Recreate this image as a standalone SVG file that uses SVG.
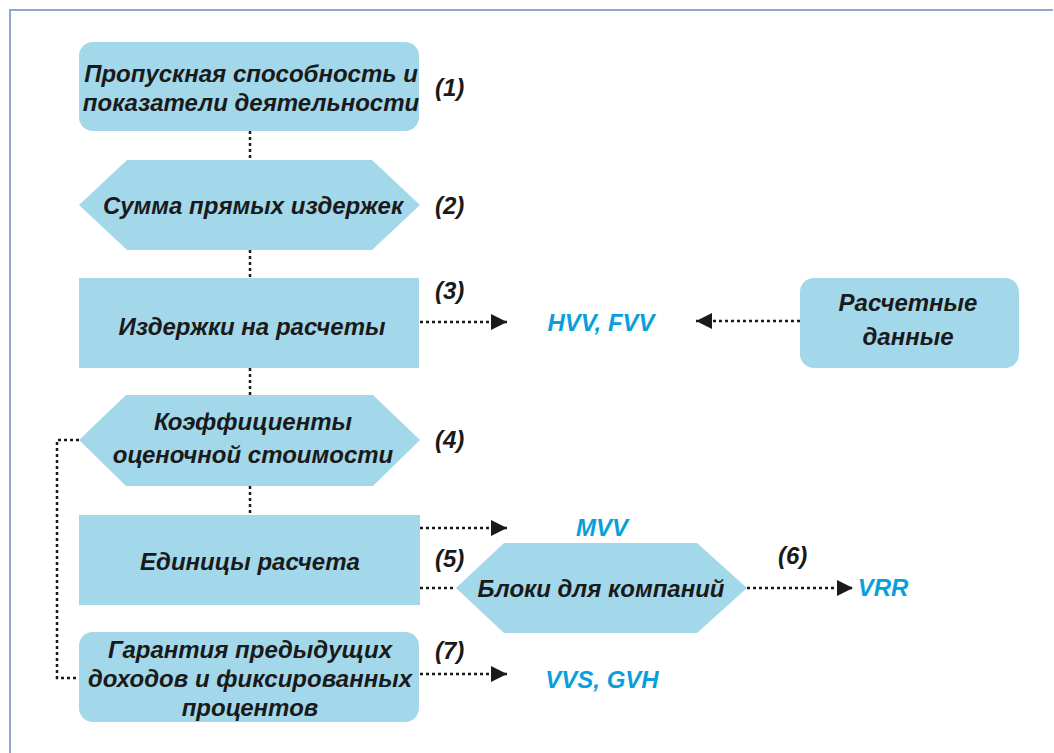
<svg xmlns="http://www.w3.org/2000/svg" width="1054" height="753" viewBox="0 0 1054 753">
<style>
.box{fill:#a2d8ea}
.t,.n,.b{font-family:"Liberation Sans",Arial,sans-serif;font-weight:bold;font-style:italic;font-size:24px}
.t{fill:#1a1a1a;text-anchor:middle}
.n{fill:#1a1a1a}
.b{fill:#0a9fda;text-anchor:middle}
.c{fill:none;stroke:#1a1a1a;stroke-width:2.5;stroke-dasharray:3 3}
</style>
<defs>
<marker id="ah" markerWidth="16" markerHeight="16" refX="16" refY="8" orient="auto" markerUnits="userSpaceOnUse">
<path d="M0,0 L16,8 L0,16 Z" fill="#1a1a1a"/>
</marker>
</defs>
<rect width="1054" height="753" fill="#fff"/>
<path d="M10,753 V10 H1053" fill="none" stroke="#91a6c9" stroke-width="2"/>

<g id="connectors">
<path class="c" d="M250,131 V160"/>
<path class="c" d="M250,250 V278"/>
<path class="c" d="M250,368 V395"/>
<path class="c" d="M250,486 V515"/>
<path class="c" d="M420,322 H507" marker-end="url(#ah)"/>
<path class="c" d="M800,321 H696" marker-end="url(#ah)"/>
<path class="c" d="M420,528 H507" marker-end="url(#ah)"/>
<path class="c" d="M420,588 H456"/>
<path class="c" d="M747,588 H853" marker-end="url(#ah)"/>
<path class="c" d="M420,674 H507" marker-end="url(#ah)"/>
<path class="c" d="M79,440 H57 V678 H79"/>
</g>

<g id="n1">
<rect class="box" x="79" y="42" width="340" height="89" rx="14"/>
<text class="t" x="251" y="82">Пропускная способность и</text>
<text class="t" x="251" y="111">показатели деятельности</text>
<text class="n" x="435" y="96">(1)</text>
</g>
<g id="n2">
<polygon class="box" points="79,205 127,160 372,160 420,205 372,250 127,250"/>
<text class="t" x="253" y="214">Сумма прямых издержек</text>
<text class="n" x="435" y="214">(2)</text>
</g>
<g id="n3">
<rect class="box" x="79" y="278" width="340" height="90"/>
<text class="t" x="252" y="335">Издержки на расчеты</text>
<text class="n" x="435" y="299">(3)</text>
</g>
<g id="hvv">
<text class="b" x="601" y="331">HVV, FVV</text>
</g>
<g id="nr">
<rect class="box" x="800" y="278" width="219" height="90" rx="14"/>
<text class="t" x="908" y="311">Расчетные</text>
<text class="t" x="908" y="345">данные</text>
</g>
<g id="n4">
<polygon class="box" points="79,440 126,395 373,395 420,440 373,486 126,486"/>
<text class="t" x="253" y="430">Коэффициенты</text>
<text class="t" x="253" y="463">оценочной стоимости</text>
<text class="n" x="435" y="448">(4)</text>
</g>
<g id="n5">
<rect class="box" x="79" y="515" width="341" height="90"/>
<text class="t" x="250" y="570">Единицы расчета</text>
<text class="n" x="435" y="567">(5)</text>
</g>
<g id="mvv">
<text class="b" x="602" y="536">MVV</text>
</g>
<g id="n6">
<polygon class="box" points="456,588 504,543 697,543 747,588 697,633 504,633"/>
<text class="t" x="601" y="597">Блоки для компаний</text>
<text class="n" x="778" y="564">(6)</text>
</g>
<g id="vrr">
<text class="b" x="883" y="596">VRR</text>
</g>
<g id="n7">
<rect class="box" x="79" y="632" width="340" height="90" rx="14"/>
<text class="t" x="250" y="658">Гарантия предыдущих</text>
<text class="t" x="250" y="687">доходов и фиксированных</text>
<text class="t" x="250" y="716">процентов</text>
<text class="n" x="435" y="659">(7)</text>
</g>
<g id="vvs">
<text class="b" x="602" y="688">VVS, GVH</text>
</g>
</svg>
